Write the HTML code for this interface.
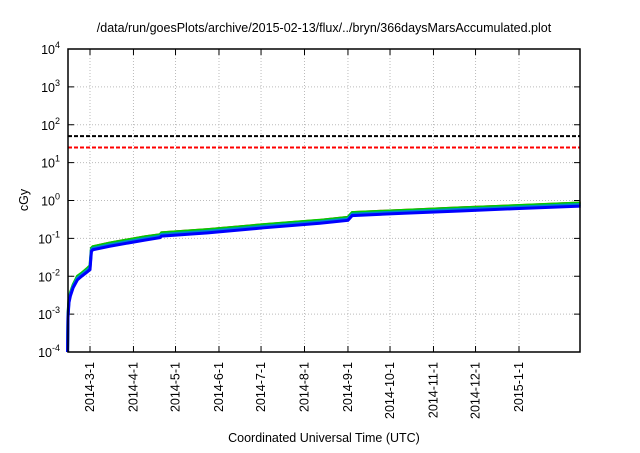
<!DOCTYPE html>
<html><head><meta charset="utf-8"><style>
body{margin:0;background:#fff;font-family:"Liberation Sans",sans-serif}
svg text{font-family:"Liberation Sans",sans-serif;fill:#000}
</style></head><body>
<svg width="640" height="448" xmlns="http://www.w3.org/2000/svg">
<g id="g"></g>
</svg>
<script>
const tickLabels=["2014-3-1","2014-4-1","2014-5-1","2014-6-1","2014-7-1","2014-8-1","2014-9-1","2014-10-1","2014-11-1","2014-12-1","2015-1-1"];
const dayOffsets=[0,0.3,1,2,4,7,10,14,16,17,18,30,55,66,67,100,140,180,200,203,240,280,320,366];
const blueValues=[0.0001,0.0008,0.002,0.003,0.005,0.008,0.01,0.013,0.015,0.045,0.05,0.062,0.09,0.105,0.115,0.14,0.19,0.25,0.3,0.4,0.46,0.53,0.61,0.71];
const greenValues=[0.0001,0.001,0.0025,0.0037,0.006,0.01,0.012,0.016,0.019,0.055,0.06,0.075,0.11,0.125,0.14,0.17,0.23,0.3,0.36,0.48,0.55,0.64,0.73,0.86];
const refLines=[50,25];
const L=68,R=580,T=49,B=352,startDay=-16;
const pxPerDay=(519-90)/306;
const monthDays=[0,31,61,92,122,153,184,214,245,275,306];
const x=d=>90+(d+startDay)*pxPerDay;
const y=v=>B-(Math.log10(v)+4)/8*(B-T);
const g=document.getElementById('g');
const NS="http://www.w3.org/2000/svg";
function mk(t,a,txt){const e=document.createElementNS(NS,t);for(const k in a)e.setAttribute(k,a[k]);if(txt!==undefined)e.textContent=txt;g.appendChild(e);return e;}
for(let p=-4;p<=4;p++){
 const yy=y(Math.pow(10,p));
 if(p>-4&&p<4){const l=mk('line',{x1:L,x2:R,y1:yy,y2:yy,stroke:'#bbb','stroke-dasharray':'1,2'});
 
 }
 mk('line',{x1:L,x2:L+6,y1:yy,y2:yy,stroke:'#000'});mk('line',{x1:R-6,x2:R,y1:yy,y2:yy,stroke:'#000'});
 const t=mk('text',{x:L-8,y:yy+5,'text-anchor':'end','font-size':12.5});
 
 
 t.textContent='10';const s=document.createElementNS(NS,'tspan');s.setAttribute('dy','-6');s.setAttribute('font-size','9');s.textContent=p;t.appendChild(s);
}
tickLabels.forEach((lab,i)=>{
 const xx=x(monthDays[i]-startDay);
 const l=mk('line',{x1:xx,x2:xx,y1:T,y2:B,stroke:'#bbb','stroke-dasharray':'1,2'});
 
 
 mk('line',{x1:xx,x2:xx,y1:B-6,y2:B,stroke:'#000'});mk('line',{x1:xx,x2:xx,y1:T,y2:T+6,stroke:'#000'});
 const t=mk('text',{transform:`translate(${xx+4},${B+10}) rotate(-90)`,'text-anchor':'end','font-size':12.5},lab);
 
 
});
const rc=['#000','#f00'];
refLines.forEach((v,i)=>{const l=mk('line',{x1:L,x2:R,y1:y(v),y2:y(v),stroke:rc[i],'stroke-width':2,'stroke-dasharray':'4,2'});
 
 });
function series(vals,col,w,name){
 const d=vals.map((v,i)=>(i?'L':'M')+x(dayOffsets[i])+','+y(v)).join('');
 const p=mk('path',{d,fill:'none',stroke:col,'stroke-width':w});
 
 
}
series(greenValues.map(v=>v*1.03),'#f00',2,'red-series');
series(greenValues,'#0c0',3,'green-series');
series(blueValues.map((v,i)=>Math.sqrt(v*greenValues[i])),'#08c',3,'teal-series');
series(blueValues,'#00f',3,'blue-series');
const f=mk('rect',{x:L,y:T,width:R-L,height:B-T,fill:'none',stroke:'#000','stroke-width':1.5});


const tt=mk('text',{x:324,y:32,'text-anchor':'middle','font-size':12.5},'/data/run/goesPlots/archive/2015-02-13/flux/../bryn/366daysMarsAccumulated.plot');


const yt=mk('text',{transform:'translate(28,200) rotate(-90)','text-anchor':'middle','font-size':12.5},'cGy');


const xt=mk('text',{x:324,y:442,'text-anchor':'middle','font-size':12.5},'Coordinated Universal Time (UTC)');


</script>
</body></html>
